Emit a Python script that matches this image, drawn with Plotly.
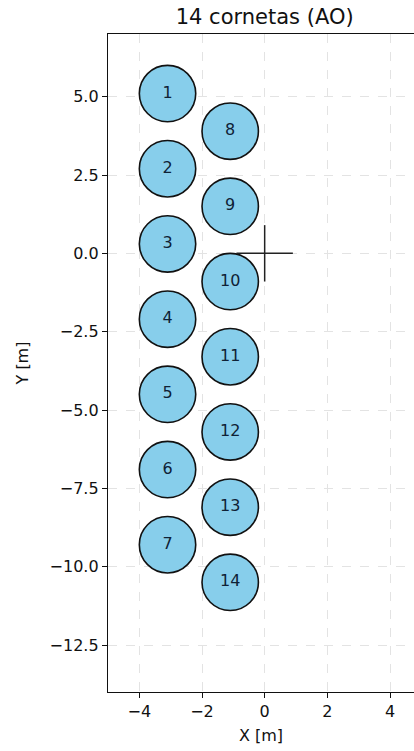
import plotly.graph_objects as go

# Horn layout: labels and centre coordinates in metres
horn_labels = [str(i) for i in range(1, 15)]
horn_x = [-3.1] * 7 + [-1.1] * 7
horn_y = [5.1, 2.7, 0.3, -2.1, -4.5, -6.9, -9.3,
          3.9, 1.5, -0.9, -3.3, -5.7, -8.1, -10.5]
horn_radius = 0.9

# Reference cross at the array origin
cross_half = 0.9

x_ticks = [-4, -2, 0, 2, 4]
y_ticks = [5.0, 2.5, 0.0, -2.5, -5.0, -7.5, -10.0, -12.5]

FONT = "DejaVu Sans"

fig = go.Figure()

# Horn apertures as circles in data coordinates (between grid and traces)
shapes = []
for cx, cy in zip(horn_x, horn_y):
    shapes.append(dict(
        type="circle", xref="x", yref="y",
        x0=cx - horn_radius, x1=cx + horn_radius,
        y0=cy - horn_radius, y1=cy + horn_radius,
        fillcolor="#87CEEB", line=dict(color="#111111", width=1.6),
        layer="between",
    ))

# Origin cross
fig.add_trace(go.Scatter(
    x=[-cross_half, cross_half, None, 0, 0],
    y=[0, 0, None, cross_half, -cross_half],
    mode="lines", line=dict(color="#222222", width=1.5),
    hoverinfo="skip", showlegend=False,
))

# Horn numbers
fig.add_trace(go.Scatter(
    x=horn_x, y=horn_y, text=horn_labels, mode="text",
    textfont=dict(family=FONT, size=16, color="#0f2236"),
    textposition="middle center", showlegend=False, hoverinfo="skip",
))

W, H = 414, 751
ml, mt, mb = 108, 34, 59
plot_w = W - ml
plot_h = H - mt - mb
y_min, y_max = -14.0, 7.0
px_per_m = plot_h / (y_max - y_min)
x_min = -5.0
x_max = x_min + plot_w / px_per_m

grid = dict(showgrid=True, gridcolor="#e3e3e3", griddash="dash", gridwidth=1)

fig.update_layout(
    width=W, height=H,
    margin=dict(l=ml, r=0, t=mt, b=mb, pad=0),
    plot_bgcolor="white", paper_bgcolor="white",
    shapes=shapes,
    font=dict(family=FONT, size=16, color="#111111"),
    title=dict(
        text="14 cornetas (AO)",
        x=(0 - x_min) / (x_max - x_min), xanchor="center", xref="paper",
        y=1 - 17 / H, yanchor="middle", yref="container",
        font=dict(family=FONT, size=21, color="#111111"),
    ),
    xaxis=dict(
        range=[x_min, x_max], tickvals=x_ticks,
        ticktext=[str(v).replace("-", "\u2212") for v in x_ticks],
        ticks="outside", ticklen=5, tickwidth=1.2, tickcolor="#111111",
        showline=True, linecolor="#111111", linewidth=1.4, mirror=True,
        zeroline=False,
        title=dict(text="X [m]", standoff=9, font=dict(family=FONT, size=16)),
        **grid,
    ),
    yaxis=dict(
        range=[y_min, y_max], tickvals=y_ticks,
        ticktext=[f"{v:.1f}".replace("-", "\u2212") for v in y_ticks],
        ticks="outside", ticklen=5, tickwidth=1.2, tickcolor="#111111",
        showline=True, linecolor="#111111", linewidth=1.4, mirror=False,
        zeroline=False,
        title=dict(text="Y [m]", standoff=16, font=dict(family=FONT, size=16)),
        **grid,
    ),
)

fig.write_html("out.html")
